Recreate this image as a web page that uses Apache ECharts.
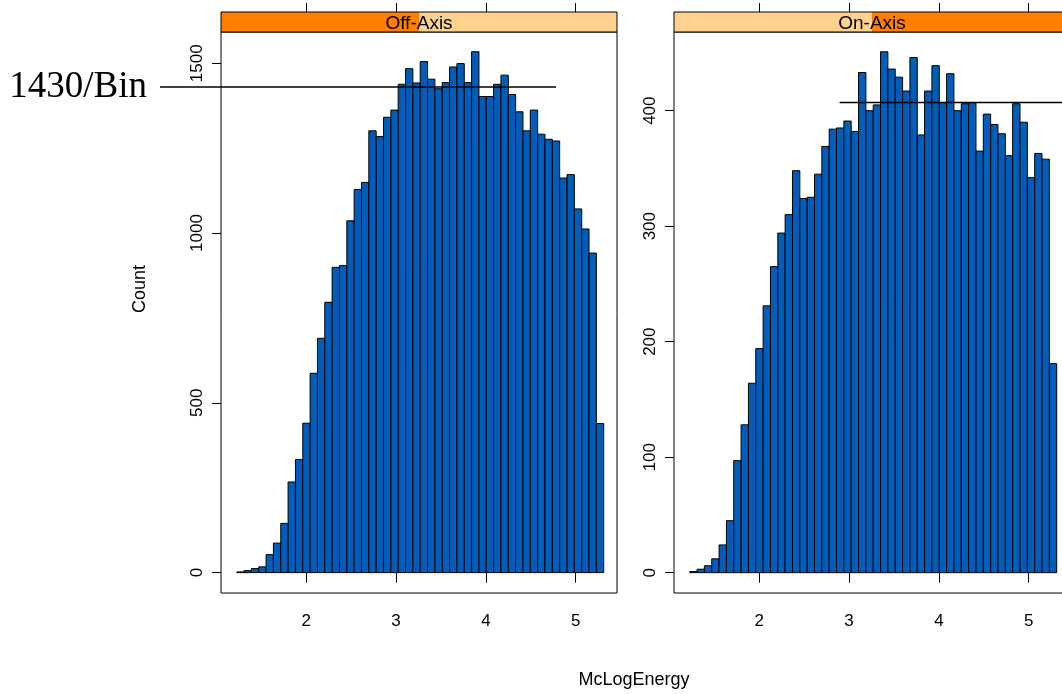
<!DOCTYPE html>
<html><head><meta charset="utf-8">
<script src="https://cdn.jsdelivr.net/npm/echarts@6/dist/echarts.min.js"></script>
<style>html,body{margin:0;padding:0;background:#fff}#c{width:1062px;height:694px}</style>
</head><body><div id="c"></div>
<script>
// ---------------- data ----------------
const panelNames = ['Off-Axis', 'On-Axis'];
const binStart = 1.225;      // first histogram break (McLogEnergy)
const binWidth = 0.08174;    // width of each bin
const offAxisCounts = [2, 6, 12, 17, 53, 87, 145, 267, 333, 440,
  587, 690, 796, 899, 904, 1036, 1128, 1149, 1301, 1284,
  1341, 1362, 1438, 1484, 1442, 1505, 1453, 1425, 1443, 1489,
  1499, 1443, 1534, 1402, 1402, 1438, 1465, 1408, 1357, 1301,
  1362, 1291, 1276, 1271, 1162, 1172, 1071, 1012, 941, 439];
const onAxisCounts = [1, 3, 6, 12, 24, 45, 97, 128, 164, 194,
  231, 265, 294, 310, 348, 324, 325, 345, 369, 384,
  385, 391, 382, 433, 400, 405, 451, 436, 429, 417,
  446, 379, 417, 439, 407, 432, 400, 406, 407, 365,
  397, 388, 380, 361, 406, 390, 342, 363, 358, 181];
const xTicks = [2, 3, 4, 5];
const yTicksOff = [0, 500, 1000, 1500];
const yTicksOn = [0, 100, 200, 300, 400];
const xRange = [1.05, 5.46];
const yRangeOff = [-60, 1592];
const yRangeOn = [-17.6, 468.1];
const refLevelOff = 1430;
const refLineOffX = [0.371, 4.781];
const refLevelOn = 407;
const refLineOnX = [2.894, 5.46];
const annotationText = '1430/Bin';
const xTitle = 'McLogEnergy';
const yTitle = 'Count';

// ---------------- layout / style ----------------
const PANEL_LEFTS = [221, 674];
const PANEL_W = 396, PANEL_TOP = 32, PANEL_H = 561, STRIP_H = 20;
const FONT = '"Liberation Sans", Arial, sans-serif';
const BAR_FILL = '#005DBA';
const STRIP_BG = '#FFD291', STRIP_FG = '#FF8000';

function histData(counts) {
  return counts.map((c, i) => [binStart + i * binWidth, binStart + (i + 1) * binWidth, c]);
}

function renderBar(params, api) {
  const a = api.coord([api.value(0), api.value(2)]);
  const b = api.coord([api.value(1), 0]);
  return {
    type: 'rect',
    shape: { x: a[0], y: a[1], width: b[0] - a[0], height: b[1] - a[1] },
    style: { fill: BAR_FILL, stroke: '#000', lineWidth: 1 }
  };
}

const grids = PANEL_LEFTS.map(l => ({
  left: l, top: PANEL_TOP, width: PANEL_W, height: PANEL_H,
  show: true, borderColor: '#000', borderWidth: 1, backgroundColor: '#fff',
  containLabel: false, outerBoundsMode: 'none'
}));

const xAxes = [];
[0, 1].forEach(i => {
  xAxes.push({
    type: 'value', gridIndex: i, position: 'bottom', min: xRange[0], max: xRange[1],
    axisLine: { show: false }, splitLine: { show: false },
    axisTick: { show: true, length: 10, customValues: xTicks, lineStyle: { color: '#000', width: 1 } },
    axisLabel: { customValues: xTicks, margin: 20, fontSize: 17, color: '#000', fontFamily: FONT,
      formatter: v => String(v) }
  });
  xAxes.push({
    type: 'value', gridIndex: i, position: 'top', offset: STRIP_H, min: xRange[0], max: xRange[1],
    axisLine: { show: false }, splitLine: { show: false },
    axisTick: { show: true, length: 9, customValues: xTicks, lineStyle: { color: '#000', width: 1 } },
    axisLabel: { show: false }
  });
});

function yAxis(i, range, ticks) {
  return {
    type: 'value', gridIndex: i, position: 'left', min: range[0], max: range[1],
    axisLine: { show: false }, splitLine: { show: false },
    axisTick: { show: true, length: 9, customValues: ticks, lineStyle: { color: '#000', width: 1 } },
    axisLabel: { customValues: ticks, rotate: 90, margin: 15, fontSize: 17, color: '#000', fontFamily: FONT,
      formatter: v => String(v) }
  };
}

const chart = echarts.init(document.getElementById('c'), null, { renderer: 'canvas' });

const stripGraphics = [];
PANEL_LEFTS.forEach((l, i) => {
  const top = PANEL_TOP - STRIP_H;
  const half = PANEL_W / 2;
  stripGraphics.push({ type: 'rect', z: 10, shape: { x: l, y: top, width: PANEL_W, height: STRIP_H }, style: { fill: STRIP_BG } });
  stripGraphics.push({ type: 'rect', z: 11, shape: { x: i === 0 ? l : l + half, y: top, width: half, height: STRIP_H }, style: { fill: STRIP_FG } });
  stripGraphics.push({ type: 'rect', z: 12, shape: { x: l, y: top, width: PANEL_W, height: STRIP_H }, style: { fill: 'none', stroke: '#000', lineWidth: 1 } });
  stripGraphics.push({ type: 'text', z: 13, x: l + half, y: top + STRIP_H / 2 + 2,
    style: { text: panelNames[i], fill: '#000', font: '19px ' + FONT, align: 'center', verticalAlign: 'middle', textAlign: 'center', textVerticalAlign: 'middle' } });
});

chart.setOption({
  animation: false,
  backgroundColor: '#fff',
  grid: grids,
  xAxis: xAxes,
  yAxis: [yAxis(0, yRangeOff, yTicksOff), yAxis(1, yRangeOn, yTicksOn)],
  series: [
    { type: 'custom', name: panelNames[0], xAxisIndex: 0, yAxisIndex: 0, renderItem: renderBar,
      encode: { x: [0, 1], y: 2 }, data: histData(offAxisCounts) },
    { type: 'custom', name: panelNames[1], xAxisIndex: 2, yAxisIndex: 1, renderItem: renderBar,
      encode: { x: [0, 1], y: 2 }, data: histData(onAxisCounts) }
  ],
  graphic: stripGraphics
});

// reference lines, annotation text and shared axis titles from computed positions
const offA = chart.convertToPixel({ xAxisIndex: 0, yAxisIndex: 0 }, [refLineOffX[0], refLevelOff]);
const offB = chart.convertToPixel({ xAxisIndex: 0, yAxisIndex: 0 }, [refLineOffX[1], refLevelOff]);
const onA = chart.convertToPixel({ xAxisIndex: 2, yAxisIndex: 1 }, [refLineOnX[0], refLevelOn]);
const onB = chart.convertToPixel({ xAxisIndex: 2, yAxisIndex: 1 }, [refLineOnX[1], refLevelOn]);
chart.setOption({
  graphic: stripGraphics.concat([
    { type: 'line', z: 20, shape: { x1: offA[0], y1: offA[1], x2: offB[0], y2: offB[1] },
      style: { stroke: '#000', lineWidth: 1.5 } },
    { type: 'line', z: 20, shape: { x1: onA[0], y1: onA[1], x2: onB[0] + 20, y2: onB[1] },
      style: { stroke: '#000', lineWidth: 1.5 } },
    { type: 'text', z: 20, x: offA[0] - 13, y: offA[1],
      style: { text: annotationText, fill: '#000', font: '37px "Liberation Serif", "Times New Roman", serif', align: 'right', verticalAlign: 'middle', textAlign: 'right', textVerticalAlign: 'middle' } },
    { type: 'text', z: 20, x: 140, y: 289, rotation: Math.PI / 2,
      style: { text: yTitle, fill: '#000', font: '18px ' + FONT, align: 'center', verticalAlign: 'middle', textAlign: 'center', textVerticalAlign: 'middle' } },
    { type: 'text', z: 20, x: 634, y: 680,
      style: { text: xTitle, fill: '#000', font: '18px ' + FONT, align: 'center', verticalAlign: 'middle', textAlign: 'center', textVerticalAlign: 'middle' } }
  ])
});
</script></body></html>
